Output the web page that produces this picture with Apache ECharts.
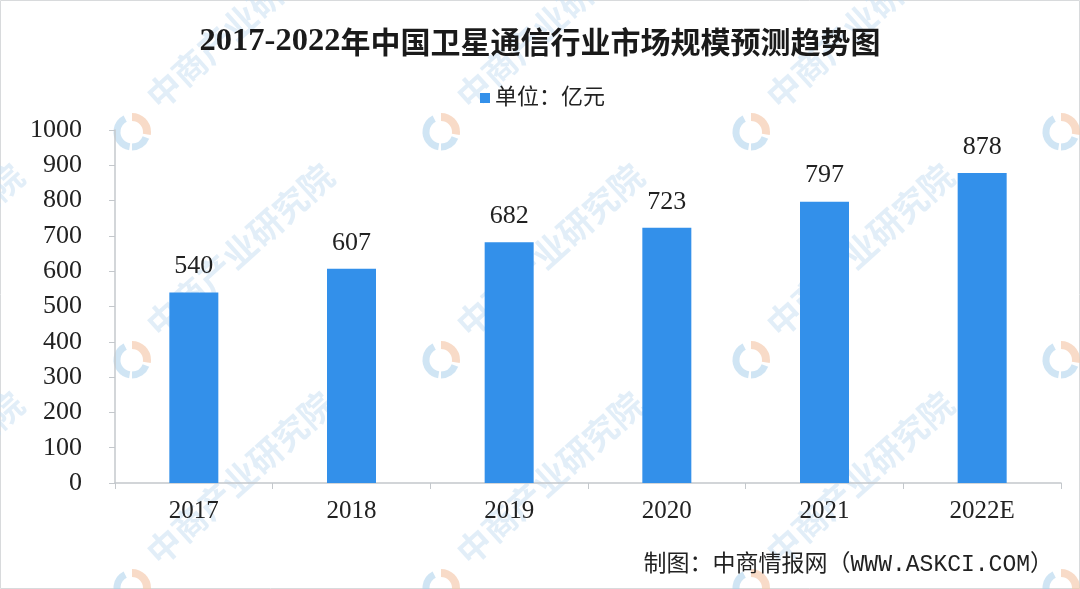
<!DOCTYPE html>
<html><head><meta charset="utf-8">
<style>html,body{margin:0;padding:0;background:#fff}#c{width:1080px;height:589px}</style>
<script src="https://cdn.jsdelivr.net/npm/echarts@6/dist/echarts.min.js"></script></head>
<body><div id="c"></div>
<script>
const categories = ["2017","2018","2019","2020","2021","2022E"];
const values = [540,607,682,723,797,878];
const seriesName = "单位：亿元";
const titleYears = "2017-2022";
const titleRest = "年中国卫星通信行业市场规模预测趋势图";
const sourceText = "制图：中商情报网（WWW.ASKCI.COM）";
const watermarkText = "中商产业研究院";
const font = '"Liberation Serif","Noto Sans CJK SC",serif';

const wm = [];
for (const ox of [-70, 240, 550, 860]) {
  for (const oy of [22, 250, 478]) {
    wm.push({type:'text', z:-1, x:ox, y:oy, rotation:Math.PI*42/180,
      style:{text:watermarkText, font:'bold 34px "Noto Sans CJK SC"', fill:'rgba(190,218,240,0.45)', align:'center', verticalAlign:'middle'}});
  }
}
for (const lx of [132, 441, 751, 1061]) {
  for (const ly of [132, 360, 588]) {
    wm.push({type:'arc', z:-1, shape:{cx:lx,cy:ly,r:15,startAngle:Math.PI*0.55,endAngle:Math.PI*1.35}, style:{stroke:'rgba(170,208,235,0.55)',lineWidth:7,fill:null}});
    wm.push({type:'arc', z:-1, shape:{cx:lx,cy:ly,r:15,startAngle:Math.PI*1.5,endAngle:Math.PI*2.05}, style:{stroke:'rgba(245,200,170,0.65)',lineWidth:8,fill:null}});
    wm.push({type:'arc', z:-1, shape:{cx:lx,cy:ly,r:15,startAngle:Math.PI*0.12,endAngle:Math.PI*0.5}, style:{stroke:'rgba(170,208,235,0.55)',lineWidth:7,fill:null}});
  }
}
wm.push({type:'text', x:1053, y:565, style:{text:sourceText, font:'23px "Liberation Mono","Noto Sans CJK SC"', fill:'#222', align:'right', verticalAlign:'middle'}});
wm.push({type:'rect', z:-2, shape:{x:0.5,y:0.5,width:1079,height:588}, style:{stroke:'#d8dadc',fill:null,lineWidth:1}});

const chart = echarts.init(document.getElementById('c'));
chart.setOption({
  animation:false,
  backgroundColor:'#fff',
  title:{text:'{d|'+titleYears+'}{c|'+titleRest+'}', left:'center', top:25, padding:0,
    textStyle:{rich:{
      d:{fontFamily:'"Liberation Serif"', fontSize:32.5, fontWeight:'bold', color:'#1a1a1a'},
      c:{fontFamily:'"Noto Sans CJK SC"', fontSize:30, fontWeight:'bold', color:'#1a1a1a'}}}},
  legend:{data:[seriesName], top:87, left:480, padding:0, itemWidth:10, itemHeight:10, itemGap:5, icon:'rect',
    textStyle:{fontFamily:font, fontSize:22, color:'#222'}},
  grid:{left:115, right:19, top:130, bottom:106},
  xAxis:{type:'category', data:categories,
    axisLine:{lineStyle:{color:'#c4c8cc',width:1.5}},
    axisTick:{show:true,length:6,lineStyle:{color:'#c4c8cc'}},
    axisLabel:{fontFamily:font, fontSize:25, color:'#222', margin:16}},
  yAxis:{type:'value', min:0, max:1000, interval:100,
    axisLine:{show:true,lineStyle:{color:'#c4c8cc',width:1.5}},
    axisTick:{show:true,length:6,lineStyle:{color:'#c4c8cc'}},
    splitLine:{show:false},
    axisLabel:{fontFamily:font, fontSize:26, color:'#222', margin:33, padding:[3,0,0,0], formatter:v=>String(v)}},
  series:[{name:seriesName, type:'bar', data:values, barWidth:49,
    itemStyle:{color:'#3390ea'},
    label:{show:true, position:'top', distance:13, fontFamily:font, fontSize:26, color:'#222'}}],
  graphic:{elements:wm}
});
</script></body></html>
